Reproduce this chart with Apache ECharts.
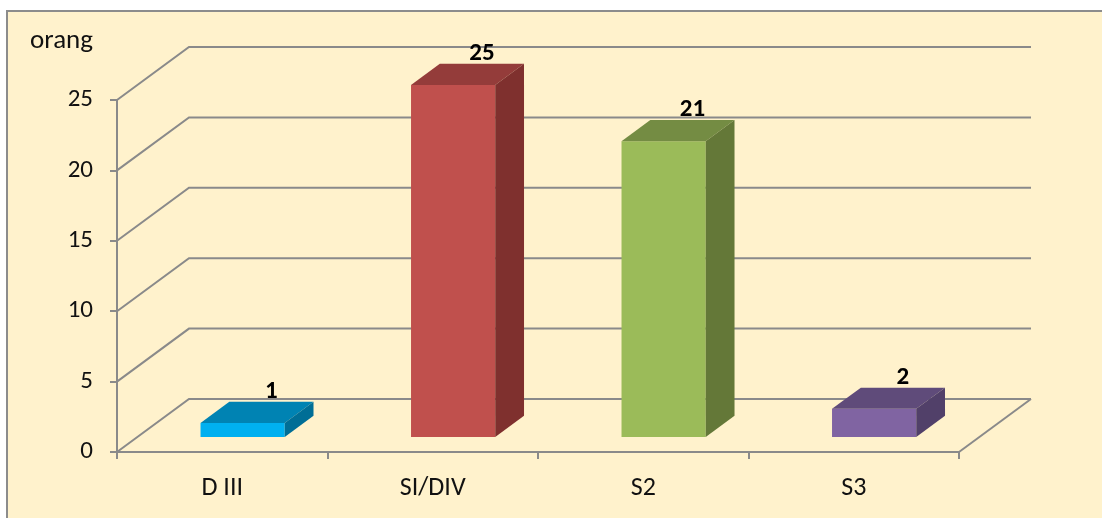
<!DOCTYPE html>
<html>
<head>
<meta charset="utf-8">
<script src="https://cdn.jsdelivr.net/npm/echarts@6/dist/echarts.min.js"></script>
<style>
html,body{margin:0;padding:0;background:#fff;}
#chart{width:1102px;height:518px;}
</style>
</head>
<body>
<div id="chart"></div>
<script>
const categories = ['D III', 'SI/DIV', 'S2', 'S3'];
const values = [1, 25, 21, 2];
const yTicks = [0, 5, 10, 15, 20, 25];
const yAxisName = 'orang';
const frontColors = ['#00B0F0', '#C0504D', '#9BBB59', '#8064A2'];
const topColors = ['#0083B3', '#943C3A', '#748C43', '#5F4B7A'];
const sideColors = ['#006E96', '#7F302E', '#647838', '#514069'];

const FONT = 'Carlito, Calibri, Lato, sans-serif';
const GRID_COLOR = '#8a8a8a';
const DEPTH = [72, -53];
const BAR_FRONT_T = 0.283;
const BAR_DEPTH_T = 0.4;
const BAR_W_FRAC = 0.4;

const chart = echarts.init(document.getElementById('chart'), null, {renderer: 'canvas'});

function renderGrid(params, api) {
  const cs = params.coordSys;
  const v = api.value(1);
  const y = api.coord([0, v])[1];
  const left = cs.x, right = cs.x + cs.width;
  const children = [{
    type: 'polyline',
    shape: {points: [[left, y], [left + DEPTH[0], y + DEPTH[1]], [right + DEPTH[0], y + DEPTH[1]]]},
    style: {stroke: GRID_COLOR, lineWidth: 2, fill: null}
  }];
  if (v === 0) {
    children.push({
      type: 'line',
      shape: {x1: right, y1: y, x2: right + DEPTH[0], y2: y + DEPTH[1]},
      style: {stroke: GRID_COLOR, lineWidth: 2}
    });
  }
  return {type: 'group', children: children};
}

function renderBar(params, api) {
  const i = api.value(0);
  const v = api.value(1);
  const base = api.coord([i, 0]);
  const top = api.coord([i, v]);
  const band = api.size([1, 0])[0];
  const bw = band * BAR_W_FRAC;
  const x0 = base[0] - bw / 2 + DEPTH[0] * BAR_FRONT_T;
  const yb = base[1] + DEPTH[1] * BAR_FRONT_T;
  const yt = top[1] + DEPTH[1] * BAR_FRONT_T;
  const dx = DEPTH[0] * BAR_DEPTH_T, dy = DEPTH[1] * BAR_DEPTH_T;
  return {
    type: 'group',
    children: [
      {type: 'rect', shape: {x: x0, y: yt, width: bw, height: yb - yt}, style: {fill: frontColors[i]}},
      {type: 'polygon', shape: {points: [[x0, yt], [x0 + bw, yt], [x0 + bw + dx, yt + dy], [x0 + dx, yt + dy]]}, style: {fill: topColors[i]}},
      {type: 'polygon', shape: {points: [[x0 + bw, yt], [x0 + bw + dx, yt + dy], [x0 + bw + dx, yb + dy], [x0 + bw, yb]]}, style: {fill: sideColors[i]}},
      {type: 'text', style: {text: String(v), x: x0 + bw / 2 + dx, y: yt + dy - 10, align: 'center', verticalAlign: 'middle',
        font: 'bold 25px ' + FONT, fill: '#000'}}
    ]
  };
}

chart.setOption({
  backgroundColor: '#ffffff',
  animation: false,
  graphic: [{
    type: 'rect', z: -100,
    shape: {x: 7, y: 11, width: 1200, height: 600},
    style: {fill: '#FFF2CC', stroke: '#8c8c8c', lineWidth: 2}
  }],
  grid: {left: 117, right: 143, top: 100, bottom: 66},
  xAxis: {
    type: 'category',
    data: categories,
    boundaryGap: true,
    axisLine: {show: true, lineStyle: {color: GRID_COLOR, width: 2}},
    axisTick: {show: true, length: 7, alignWithLabel: false, lineStyle: {color: GRID_COLOR, width: 2}},
    axisLabel: {color: '#111', fontSize: 26, fontFamily: FONT, margin: 23},
    splitLine: {show: false}
  },
  yAxis: {
    type: 'value',
    min: 0, max: 25, interval: 5,
    name: yAxisName,
    nameLocation: 'end',
    nameGap: 45,
    nameTextStyle: {color: '#111', fontSize: 27, fontFamily: FONT, align: 'right', padding: [0, 24, 0, 0]},
    axisLine: {show: true, lineStyle: {color: GRID_COLOR, width: 2}},
    axisTick: {show: true, length: 7, lineStyle: {color: GRID_COLOR, width: 2}},
    axisLabel: {color: '#111', fontSize: 25, fontFamily: FONT, margin: 24},
    splitLine: {show: false}
  },
  series: [
    {
      type: 'custom', z: 1, clip: false, silent: true,
      renderItem: renderGrid,
      encode: {x: 0, y: 1},
      data: yTicks.map(v => [0, v])
    },
    {
      type: 'custom', z: 3, clip: false,
      renderItem: renderBar,
      encode: {x: 0, y: 1},
      data: values.map((v, i) => [i, v])
    }
  ]
});
</script>
</body>
</html>
